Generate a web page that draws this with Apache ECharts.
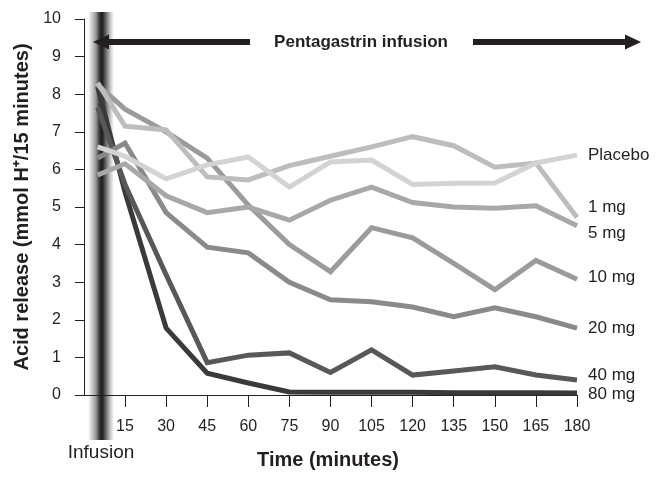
<!DOCTYPE html>
<html><head><meta charset="utf-8">
<script src="https://cdn.jsdelivr.net/npm/echarts@6/dist/echarts.min.js"></script>
<style>html,body{margin:0;padding:0;background:#fff}#c{width:661px;height:481px}</style>
</head><body><div id="c"></div>
<script>
const times = [5, 15, 30, 45, 60, 75, 90, 105, 120, 135, 150, 165, 180];
const tickValues = [15, 30, 45, 60, 75, 90, 105, 120, 135, 150, 165, 180];
const placebo = [6.6, 6.35, 5.75, 6.12, 6.33, 5.53, 6.2, 6.25, 5.6, 5.63, 5.64, 6.17, 6.38];
const mg1 = [8.3, 7.15, 7.05, 5.8, 5.72, 6.1, 6.35, 6.6, 6.87, 6.63, 6.06, 6.17, 4.72];
const mg5 = [5.85, 6.15, 5.3, 4.85, 5.0, 4.65, 5.18, 5.53, 5.12, 5.0, 4.97, 5.03, 4.5];
const mg10 = [8.25, 7.6, 7.0, 6.3, 5.05, 4.0, 3.28, 4.45, 4.18, 3.5, 2.8, 3.58, 3.08];
const mg20 = [6.3, 6.7, 4.85, 3.93, 3.78, 3.0, 2.53, 2.48, 2.34, 2.08, 2.32, 2.08, 1.78];
const mg40 = [7.65, 5.6, 3.2, 0.86, 1.06, 1.12, 0.6, 1.2, 0.53, 0.64, 0.75, 0.53, 0.4];
const mg80 = [8.2, 5.4, 1.78, 0.58, 0.32, 0.08, 0.07, 0.07, 0.07, 0.06, 0.06, 0.06, 0.05];

const seriesDefs = [
  {name: '80 mg', data: mg80, color: '#3a3a3a', off: 1},
  {name: '40 mg', data: mg40, color: '#585858', off: -5},
  {name: '20 mg', data: mg20, color: '#8a8a8a', off: 0},
  {name: '10 mg', data: mg10, color: '#9b9b9b', off: -2},
  {name: '5 mg', data: mg5, color: '#a8a8a8', off: 8},
  {name: '1 mg', data: mg1, color: '#bdbdbd', off: -10},
  {name: 'Placebo', data: placebo, color: '#d3d3d3', off: 0}
];
const TXT = '#231f20';
const FONT = '"Liberation Sans", Arial, sans-serif';

const chart = echarts.init(document.getElementById('c'), null, {renderer: 'canvas'});
chart.setOption({
  animation: false,
  backgroundColor: '#fff',
  textStyle: {fontFamily: FONT},
  grid: {left: 79, right: 84, top: 19, bottom: 86, containLabel: false},
  xAxis: {
    type: 'value', min: -1.8, max: 180,
    axisLine: {lineStyle: {color: TXT, width: 1}},
    axisTick: {customValues: tickValues, length: 12, lineStyle: {color: TXT}},
    axisLabel: {customValues: tickValues, margin: 24, fontSize: 16, color: TXT, fontFamily: FONT},
    splitLine: {show: false},
    name: 'Time (minutes)', nameLocation: 'middle', nameGap: 55,
    nameTextStyle: {fontSize: 20, fontWeight: 'bold', color: TXT, fontFamily: FONT}
  },
  yAxis: {
    type: 'value', min: 0, max: 10, interval: 1,
    axisLine: {show: true, lineStyle: {color: TXT, width: 1}},
    axisTick: {show: true, length: 9, lineStyle: {color: TXT}},
    axisLabel: {margin: 18, fontSize: 16, color: TXT, fontFamily: FONT},
    splitLine: {show: false},
    name: 'Acid release (mmol H\u207A/15 minutes)', nameLocation: 'middle', nameGap: 47,
    nameTextStyle: {fontSize: 20, fontWeight: 'bold', color: TXT, fontFamily: FONT}
  },
  graphic: [
    {type: 'rect', z: 0, shape: {x: 88, y: 12, width: 26, height: 428},
     style: {fill: new echarts.graphic.LinearGradient(0, 0, 1, 0, [
       {offset: 0, color: 'rgba(255,255,255,1)'},
       {offset: 0.12, color: '#d8d8d8'},
       {offset: 0.3, color: '#9a9a9a'},
       {offset: 0.45, color: '#333'},
       {offset: 0.55, color: '#1e1e1e'},
       {offset: 0.7, color: '#707070'},
       {offset: 0.88, color: '#d0d0d0'},
       {offset: 1, color: 'rgba(255,255,255,1)'}
     ])}},
    {type: 'rect', z: 1, shape: {x: 106, y: 39, width: 144, height: 6}, style: {fill: TXT}},
    {type: 'polygon', z: 1, shape: {points: [[93, 42], [109, 34.5], [109, 49.5]]}, style: {fill: TXT}},
    {type: 'rect', z: 1, shape: {x: 473, y: 39, width: 154, height: 6}, style: {fill: TXT}},
    {type: 'polygon', z: 1, shape: {points: [[641, 42], [625, 34.5], [625, 49.5]]}, style: {fill: TXT}},
    {type: 'text', z: 1, style: {x: 361, y: 42, text: 'Pentagastrin infusion', align: 'center', verticalAlign: 'middle',
      font: 'bold 17px "Liberation Sans", Arial, sans-serif', fill: TXT}},
    {type: 'text', z: 1, style: {x: 101, y: 453, text: 'Infusion', align: 'center', verticalAlign: 'middle',
      font: '19px "Liberation Sans", Arial, sans-serif', fill: TXT}}
  ],
  series: seriesDefs.map(d => ({
    name: d.name, type: 'line', z: 3,
    data: times.map((t, i) => [t, d.data[i]]),
    showSymbol: false, symbol: 'none',
    lineStyle: {color: d.color, width: 5, join: 'miter', cap: 'butt'},
    itemStyle: {color: d.color},
    endLabel: {show: true, formatter: d.name, distance: 11, offset: [0, d.off],
      fontSize: 17, color: TXT, fontFamily: FONT},
    emphasis: {disabled: true}
  }))
});
</script></body></html>
